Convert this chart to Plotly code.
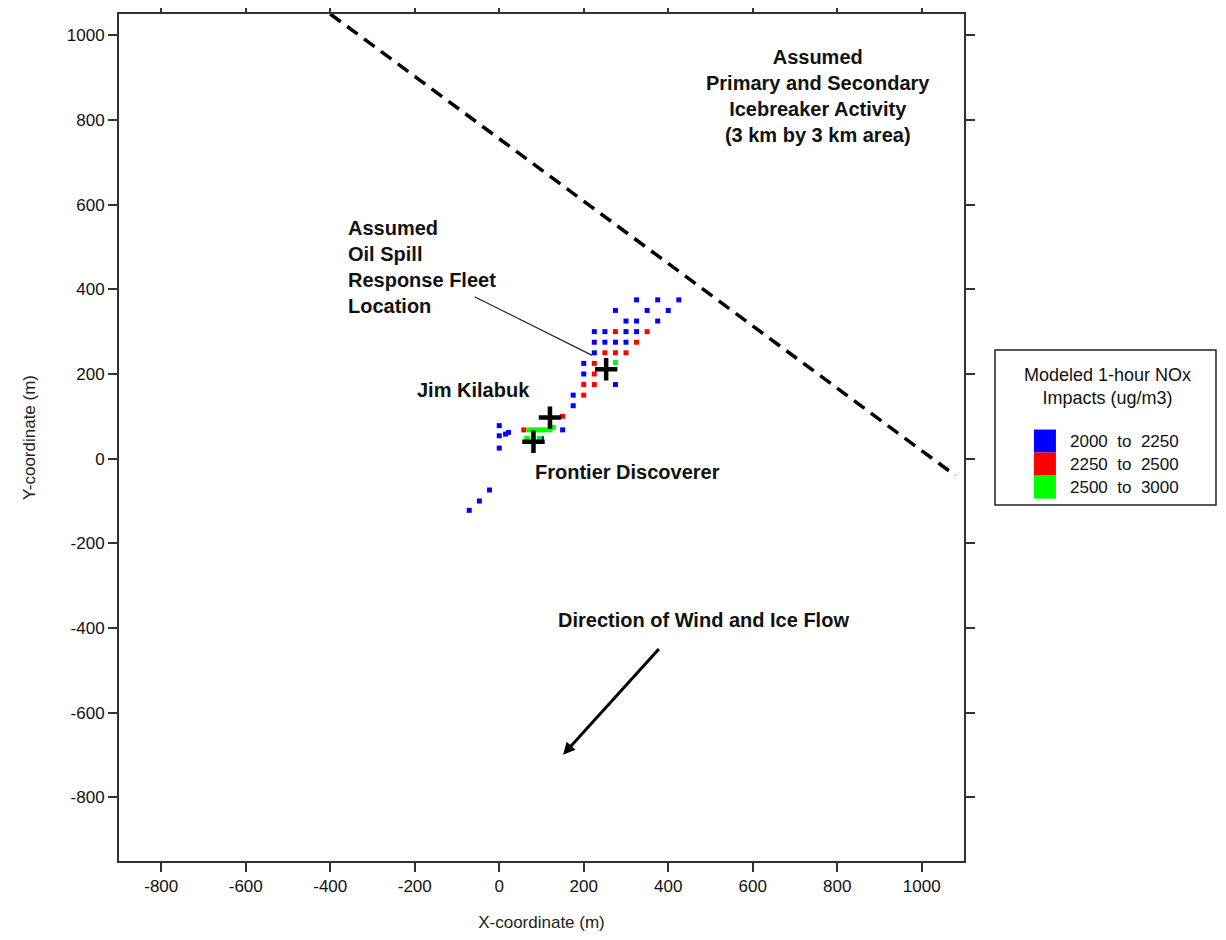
import plotly.graph_objects as go

# ---- data (metres) ----
blue_x = [325, 375, 425, 275, 350, 400, 300, 325, 375, 225, 250, 300, 325,
          225, 250, 275, 300, 225, 200, 200, 275, 175, 175,
          150, 100, 0, 0, 0, 22, 15, -23, -47, -71]
blue_y = [375, 375, 375, 350, 350, 350, 325, 325, 325, 300, 300, 300, 300,
          275, 275, 275, 275, 250, 225, 200, 175, 150, 125,
          68, 47, 78, 54, 25, 62, 58, -74, -100, -122]

red_x = [275, 350, 325, 250, 275, 300, 225, 225, 200, 225, 200, 150, 58]
red_y = [300, 300, 275, 250, 250, 250, 225, 200, 175, 175, 150, 100, 68]

green_x = [275, 70, 80, 90, 100, 110, 120, 128, 65, 80, 95]
green_y = [227, 68, 68, 68, 68, 68, 68, 74, 48, 48, 48]

vessel_names = ["Assumed Oil Spill Response Fleet", "Jim Kilabuk", "Frontier Discoverer"]
vessel_x = [253, 120, 81]
vessel_y = [211, 97, 40]

icebreaker_x = [-400, 1080]
icebreaker_y = [1050, -40]

legend_labels = ["2000  to  2250", "2250  to  2500", "2500  to  3000"]
legend_colors = ["#0000FF", "#FF0000", "#00FF00"]

x_ticks = [-800, -600, -400, -200, 0, 200, 400, 600, 800, 1000]
y_ticks = [-800, -600, -400, -200, 0, 200, 400, 600, 800, 1000]

FONT = "Arial, Liberation Sans, sans-serif"

fig = go.Figure()

for xs, ys, col, lab in [(blue_x, blue_y, legend_colors[0], legend_labels[0]),
                         (red_x, red_y, legend_colors[1], legend_labels[1]),
                         (green_x, green_y, legend_colors[2], legend_labels[2])]:
    fig.add_trace(go.Scatter(x=xs, y=ys, mode="markers", name=lab,
                             marker=dict(symbol="square", size=5, color=col,
                                         line=dict(width=0)),
                             showlegend=False))

fig.add_trace(go.Scatter(x=vessel_x, y=vessel_y, mode="markers", text=vessel_names,
                         marker=dict(symbol="cross-thin", size=16,
                                     line=dict(width=4.5, color="black")),
                         showlegend=False))

fig.add_trace(go.Scatter(x=icebreaker_x, y=icebreaker_y, mode="lines",
                         line=dict(color="black", width=3.5, dash="13px,8px"),
                         showlegend=False))

annotations = []
bold = dict(family=FONT, size=20, color="#111111")
annotations.append(dict(x=755, y=978, xref="x", yref="y", xanchor="center", yanchor="top",
                        text="<b>Assumed<br>Primary and Secondary<br>Icebreaker Activity<br>(3 km by 3 km area)</b>",
                        showarrow=False, align="center", font=bold))
annotations.append(dict(x=-362, y=576, xref="x", yref="y", xanchor="left", yanchor="top",
                        text="<b>Assumed<br>Oil Spill<br>Response Fleet<br>Location</b>",
                        showarrow=False, align="left", font=bold))
annotations.append(dict(x=-62, y=162, xref="x", yref="y", text="<b>Jim Kilabuk</b>",
                        showarrow=False, font=bold))
annotations.append(dict(x=303, y=-32, xref="x", yref="y", text="<b>Frontier Discoverer</b>",
                        showarrow=False, font=bold))
annotations.append(dict(x=483, y=-380, xref="x", yref="y", text="<b>Direction of Wind and Ice Flow</b>",
                        showarrow=False, font=bold))
# pointer from label to response fleet
annotations.append(dict(x=220, y=244, ax=-62, ay=384, xref="x", yref="y", axref="x", ayref="y",
                        text="", showarrow=True, arrowhead=0, arrowwidth=1.2, arrowcolor="#222222",
                        standoff=0, startstandoff=0))
# wind arrow
annotations.append(dict(x=151, y=-699, ax=381, ay=-446, xref="x", yref="y", axref="x", ayref="y",
                        text="", showarrow=True, arrowhead=2, arrowsize=0.8, arrowwidth=3,
                        arrowcolor="black", standoff=0))

# manual legend box
L_X0, L_X1, L_Y0, L_Y1 = 1.0367, 1.2982, 0.4203, 0.6033
shapes = [dict(type="rect", xref="paper", yref="paper", x0=L_X0, x1=L_X1, y0=L_Y0, y1=L_Y1,
               line=dict(color="#222222", width=1.5), fillcolor="white")]
annotations.append(dict(x=1.1703, y=0.5608, xref="paper", yref="paper",
                        xanchor="center", yanchor="middle",
                        text="Modeled 1-hour NOx<br>Impacts (ug/m3)", showarrow=False,
                        align="center", font=dict(family=FONT, size=18, color="#111111")))
sq_h = 0.0272
for i, (lab, col) in enumerate(zip(legend_labels, legend_colors)):
    ytop = 0.5094 - i * sq_h
    shapes.append(dict(type="rect", xref="paper", yref="paper",
                       x0=1.0828, x1=1.1088, y0=ytop - sq_h, y1=ytop,
                       line=dict(width=0), fillcolor=col))
    annotations.append(dict(x=1.1231, y=ytop - sq_h / 2, xref="paper", yref="paper",
                            xanchor="left", yanchor="middle", text=lab, showarrow=False,
                            font=dict(family=FONT, size=17, color="#111111")))

axis_common = dict(showgrid=False, zeroline=False, showline=True, linecolor="#333333",
                   linewidth=2, mirror="ticks", ticks="outside", ticklen=9, tickwidth=1.5,
                   tickcolor="#333333", automargin=False,
                   tickfont=dict(family=FONT, size=17, color="#111111"))

fig.update_layout(
    width=1218, height=924,
    margin=dict(l=111, r=262, t=6, b=71, autoexpand=False),
    paper_bgcolor="white", plot_bgcolor="white",
    showlegend=False,
    xaxis=dict(range=[-900, 1100], tickvals=x_ticks, ticktext=[str(v) for v in x_ticks],
               title=dict(text="X-coordinate (m)", standoff=22,
                          font=dict(family=FONT, size=17, color="#222222")),
               **axis_common),
    yaxis=dict(range=[-950, 1050], tickvals=y_ticks, ticktext=[str(v) for v in y_ticks],
               title=dict(text="Y-coordinate (m)", standoff=27,
                          font=dict(family=FONT, size=17, color="#222222")),
               **axis_common),
    annotations=annotations,
    shapes=shapes,
)

fig.write_html("out.html")
